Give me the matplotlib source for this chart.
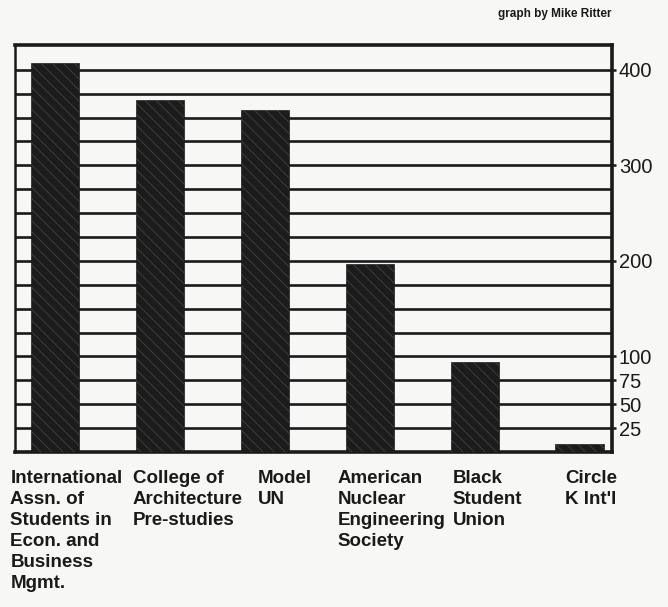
import matplotlib
matplotlib.use("Agg")
import matplotlib.pyplot as plt

categories = [
    "International\nAssn. of\nStudents in\nEcon. and\nBusiness\nMgmt.",
    "College of\nArchitecture\nPre-studies",
    "Model\nUN",
    "American\nNuclear\nEngineering\nSociety",
    "Black\nStudent\nUnion",
    "Circle\nK Int'l",
]
values = [407, 368, 358, 197, 94, 8]
tick_values = [25, 50, 75, 100, 200, 300, 400]
tick_labels = ["25", "50", "75", "100", "200", "300", "400"]
grid_values = list(range(25, 401, 25))
credit = "graph by Mike Ritter"

bg = "#f7f7f5"
fig = plt.figure(figsize=(6.68, 6.07), dpi=100, facecolor=bg)
ax = fig.add_axes([15/668, 155/607, (612-15)/668, (452-45)/607])
ax.set_facecolor(bg)

x = list(range(len(values)))
ax.set_xlim(-0.385, 5.31)
ax.set_ylim(0, 426)

for g in grid_values:
    ax.axhline(g, color="#1a1a1a", lw=1.9, zorder=1)

ax.bar(x, values, width=0.46, color="#1c1c1c", edgecolor="#1c1c1c", lw=0.5, zorder=3)
plt.rcParams["hatch.linewidth"] = 0.5
ax.bar(x, values, width=0.46, facecolor="none", edgecolor="#4a4a4a", hatch="\\\\\\", lw=0, zorder=4)

for side in ["top", "right", "bottom"]:
    ax.spines[side].set_linewidth(2.6)
    ax.spines[side].set_color("#1a1a1a")
ax.spines["left"].set_linewidth(1.8)
ax.spines["left"].set_color("#1a1a1a")

ax.yaxis.tick_right()
ax.set_yticks(tick_values)
ax.set_yticklabels(tick_labels, fontsize=14.5, family="Liberation Sans", color="#1a1a1a")
ax.tick_params(axis="y", length=3, width=1.8, pad=2, color="#1a1a1a")
ax.tick_params(axis="x", length=0)
ax.set_xticks([])

label_offsets = [-0.43, -0.26, -0.07, -0.31, -0.21, -0.14]
for xi, lab, off in zip(x, categories, label_offsets):
    ax.text(xi + off, -19, lab, ha="left", va="top", fontsize=13.5, fontweight="bold",
            family="Liberation Sans", color="#1a1a1a", linespacing=1.3, clip_on=False)

fig.text(611/668, 1 - 14/607, credit, ha="right", va="center", fontsize=8.5,
         fontweight="bold", family="Liberation Sans", color="#1a1a1a")

fig.savefig("out.png", dpi=100, facecolor=bg)
